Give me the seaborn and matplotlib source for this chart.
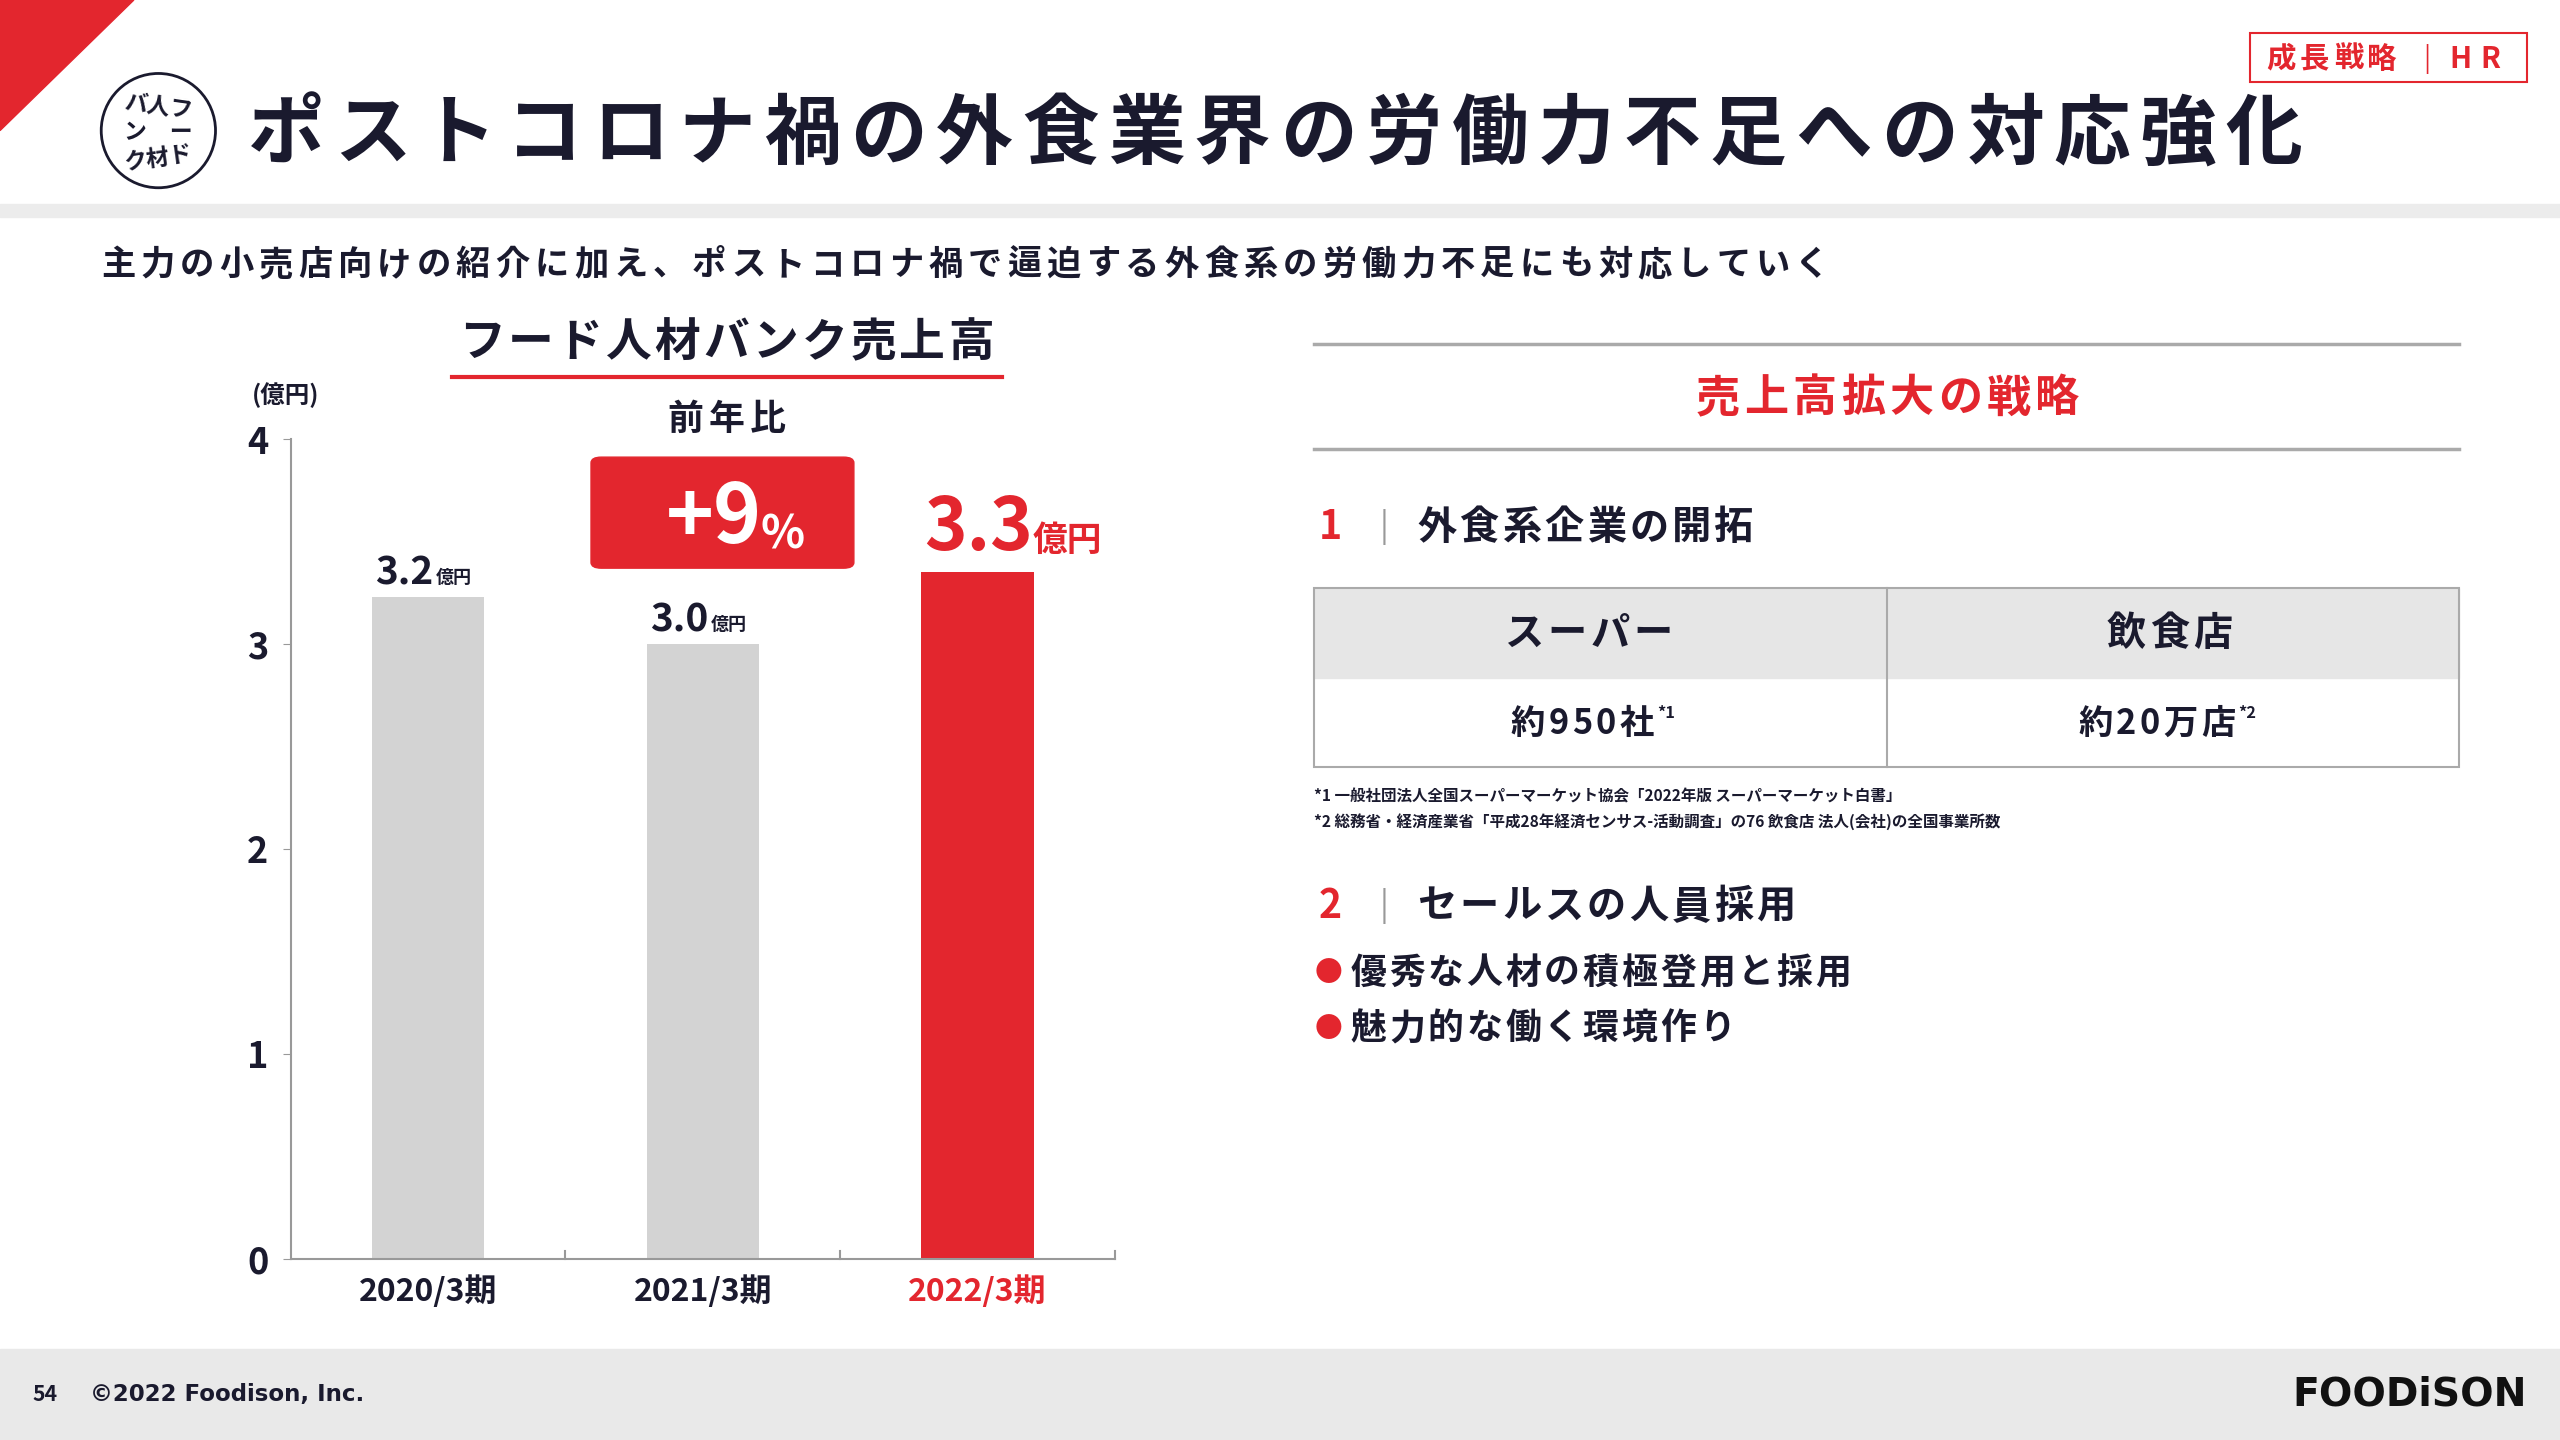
import numpy as np
import pandas as pd
import matplotlib
matplotlib.use("Agg")
import matplotlib.pyplot as plt
import seaborn as sns
from matplotlib.patches import Rectangle, Polygon, FancyBboxPatch

# ---- data ----
periods = ["2020/3期", "2021/3期", "2022/3期"]
sales = [3.23, 3.0, 3.35]
sales_labels = ["3.2", "3.0", "3.3"]
yticks = [0, 1, 2, 3, 4]
table_head = ["スーパー", "飲食店"]
table_vals = ["約950社", "約20万店"]
table_marks = ["*1", "*2"]

RED = "#e3262e"
GRAY = "#d3d3d3"
NAVY = "#1a1a2e"
FONT = "Noto Sans CJK JP"
plt.rcParams["font.family"] = FONT

W, H = 1568, 882  # layout reference grid
SC = 2560 / W
fig = plt.figure(figsize=(25.6, 14.4), dpi=100)
renderer = fig.canvas.get_renderer()


def fx(x): return x / W
def fy(y): return 1 - y / H


def T(x, y, s, size, color=NAVY, ha="left", va="center", weight="bold", track=0.0, **kw):
    """text in grid coords; track = extra letter spacing in em"""
    if track == 0:
        fig.text(fx(x), fy(y), s, fontsize=size * 1.176, color=color, ha=ha, va=va,
                 weight=weight, **kw)
        return
    objs, widths = [], []
    for ch in s:
        t = fig.text(0, fy(y), ch, fontsize=size * 1.176, color=color, ha="left", va=va,
                     weight=weight, **kw)
        objs.append(t)
        widths.append(t.get_window_extent(renderer).width / SC)
    gap = track * size
    total = sum(widths) + gap * (len(s) - 1)
    x0 = x if ha == "left" else (x - total / 2 if ha == "center" else x - total)
    for t, w in zip(objs, widths):
        t.set_x(fx(x0))
        x0 += w + gap


# ---- header ----
fig.patches.append(Polygon([[0, 1], [fx(82), 1], [0, fy(80)]], closed=True,
                           transform=fig.transFigure, color=RED))
fig.patches.append(Rectangle((0, fy(133)), 1, fy(125) - fy(133), transform=fig.transFigure,
                             color="#ececec"))
fig.patches.append(matplotlib.patches.Ellipse((fx(97), fy(80)), 70 / W, 70 / H, transform=fig.transFigure,
                                              fill=False, ec=NAVY, lw=2))
T(97, 66, "バ人フ", 14, ha="center", rotation=-8)
T(97, 81, "ン　ー", 14, ha="center")
T(97, 97, "ク材ド", 14, ha="center", rotation=8)
T(152, 83, "ポストコロナ禍の外食業界の労働力不足への対応強化", 47, track=0.12)
fig.patches.append(Rectangle((fx(1378), fy(50)), 170 / W, 30 / H, transform=fig.transFigure,
                             fill=False, ec=RED, lw=1.5))
T(1388, 36, "成長戦略", 18, color=RED, track=0.15)
T(1484, 36, "|", 16, color=RED, weight="normal")
T(1500, 36, "HR", 18, color=RED, track=0.3)
T(62, 162, "主力の小売店向けの紹介に加え、ポストコロナ禍で逼迫する外食系の労働力不足にも対応していく", 21,
  track=0.15)

# ---- bar chart ----
ax = fig.add_axes([fx(178), fy(771), (683 - 178) / W, (771 - 269) / H])
df = pd.DataFrame({"period": periods, "sales": sales})
sns.barplot(data=df, x="period", y="sales", hue="period", palette=[GRAY, GRAY, RED],
            width=0.41, saturation=1, legend=False, ax=ax)
ax.set_xlim(-0.5, 2.5)
ax.set_ylim(0, 4)
ax.set_yticks(yticks)
ax.set_yticklabels([str(v) for v in yticks], fontsize=26, color=NAVY, fontweight="bold")
ax.set_xticks([])
ax.set_xlabel("")
ax.set_ylabel("")
for s in ["top", "right"]:
    ax.spines[s].set_visible(False)
for s in ["left", "bottom"]:
    ax.spines[s].set_color("#999999")
    ax.spines[s].set_linewidth(1.5)
ax.tick_params(axis="y", length=6, color="#999999", pad=10)
for xb in [0.5, 1.5, 2.5]:
    ax.plot([xb, xb], [0, 0.04], color="#999999", lw=1.5, clip_on=False)
for i, p in enumerate(periods):
    ax.text(i, -0.08, p, ha="center", va="top", fontsize=23, fontweight="bold",
            color=RED if i == 2 else NAVY)
for i in range(2):
    ax.text(i + 0.02, sales[i] + 0.02, sales_labels[i], ha="right", va="bottom", fontsize=28,
            fontweight="bold", color=NAVY)
    ax.text(i + 0.03, sales[i] + 0.05, "億円", ha="left", va="bottom", fontsize=13,
            fontweight="bold", color=NAVY)
ax.text(2.2, sales[2] + 0.03, "3.3", ha="right", va="bottom", fontsize=52,
        fontweight="bold", color=RED)
ax.text(2.2, sales[2] + 0.07, "億円", ha="left", va="bottom", fontsize=25,
        fontweight="bold", color=RED)
T(154, 242, "(億円)", 15)
T(445, 210, "フード人材バンク売上高", 28, ha="center", track=0.07)
fig.add_artist(plt.Line2D([fx(277), fx(614)], [fy(231), fy(231)], color=RED, lw=3))
T(445, 257, "前年比", 22, ha="center", track=0.15)
fig.patches.append(FancyBboxPatch((fx(362), fy(348)), 161 / W, 68 / H, transform=fig.transFigure,
                                  boxstyle="round,pad=0,rounding_size=0.004", color=RED))
fig.text(fx(467), fy(318), "+9", fontsize=50 * 1.176, color="white", weight="bold",
         ha="right", va="center")
T(466, 328, "%", 28, color="white")

# ---- right panel ----
for y in [211, 275]:
    fig.add_artist(plt.Line2D([fx(805), fx(1506)], [fy(y), fy(y)], color="#aaaaaa", lw=2.5))
T(1156, 244, "売上高拡大の戦略", 27, color=RED, ha="center", track=0.1)
T(808, 323, "1", 24, color=RED)
T(845, 323, "|", 20, color="#999999", weight="normal")
T(868, 323, "外食系企業の開拓", 24, track=0.08)
fig.patches.append(Rectangle((fx(805), fy(415)), 701 / W, 55 / H, transform=fig.transFigure,
                             color="#e6e6e6"))
fig.patches.append(Rectangle((fx(805), fy(470)), 701 / W, 110 / H, transform=fig.transFigure,
                             fill=False, ec="#aaaaaa", lw=1.5))
fig.add_artist(plt.Line2D([fx(1156), fx(1156)], [fy(360), fy(470)], color="#aaaaaa", lw=1.5))
for i, (h, v, m) in enumerate(zip(table_head, table_vals, table_marks)):
    cx = 973 + i * 356
    T(cx, 388, h, 24, ha="center", track=0.1)
    T(cx + 40, 443, v, 21, ha="right", track=0.1)
    T(cx + 42, 437, m, 10)
T(805, 488, "*1 一般社団法人全国スーパーマーケット協会「2022年版 スーパーマーケット白書」", 9.5)
T(805, 503, "*2 総務省・経済産業省「平成28年経済センサス-活動調査」の76 飲食店 法人(会社)の全国事業所数", 9.5)
T(808, 555, "2", 24, color=RED)
T(845, 555, "|", 20, color="#999999", weight="normal")
T(868, 555, "セールスの人員採用", 24, track=0.08)
for y, s in [(596, "優秀な人材の積極登用と採用"), (630, "魅力的な働く環境作り")]:
    T(805, y, "●", 17, color=RED)
    T(827, y, s, 22, track=0.08)

# ---- footer ----
fig.patches.append(Rectangle((0, 0), 1, fy(826), transform=fig.transFigure, color="#e9e9e9"))
T(20, 854, "54", 13)
T(55, 854, "©2022 Foodison, Inc.", 14, weight="bold", family="DejaVu Sans")
fig.text(fx(1548), fy(854), "FOODiSON", fontsize=24 * 1.176, color="#111111", weight="bold",
         ha="right", va="center", family="DejaVu Sans")

fig.savefig("out.png", dpi=100)
